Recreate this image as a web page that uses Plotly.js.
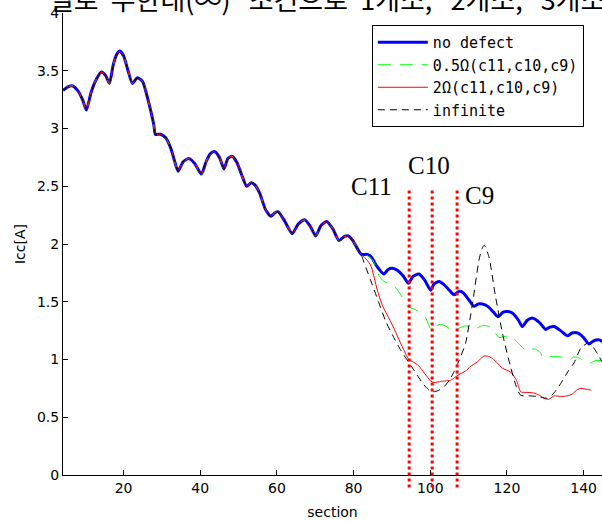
<!DOCTYPE html>
<html>
<head>
<meta charset="utf-8">
<script src="https://cdn.plot.ly/plotly-3.0.1.min.js"></script>
<style>html,body{margin:0;padding:0;background:#fff;}#chart{width:602px;height:521px;}</style>
</head>
<body>
<div id="chart"></div>
<script>
// Shared part of all four curves (sections 4..82)
const sectionsCommon = [4.2,5.5,6.6,8,9.3,10.3,11.5,12.8,14.2,15.3,16.3,17.3,18.2,19.0,20,21,22.3,23.6,24.9,26.6,27.9,28.3,29.6,31,32.3,33.3,34.2,35.5,36.9,38.5,40.3,41.5,42.6,43.7,45,46.2,47.2,48.3,49.5,50.8,52.1,53.3,54.3,55.5,57.0,58.4,59.5,60.3,62,64,65.5,67.2,68.6,70.1,71.5,73,74.6,76.2,77.6,78.6,79.8,81,82];
const iccCommon = [3.33,3.36,3.37,3.33,3.25,3.16,3.31,3.42,3.49,3.46,3.39,3.55,3.64,3.67,3.63,3.52,3.39,3.44,3.41,3.22,3.03,2.95,2.95,2.92,2.83,2.72,2.63,2.71,2.74,2.70,2.605,2.71,2.78,2.80,2.75,2.65,2.74,2.76,2.71,2.60,2.50,2.53,2.51,2.44,2.30,2.24,2.27,2.28,2.20,2.09,2.17,2.21,2.16,2.07,2.16,2.195,2.13,2.03,2.065,2.07,2.03,1.96,1.91];

// No defect (after section 82)
const sectionsNoDefect = [83.6,84.6,86,87.9,89,90.1,91.5,93,94.3,95.5,97,98.5,100.1,101,102.3,103.5,105,106.2,107.5,108.5,110,111.4,112.5,113.6,115,116.5,117.7,119,120.3,121.5,123,124.0,125.3,126.6,128.5,130.1,131.2,132.3,134,135.8,137,138.4,140,141.4,142.5,144,145];
const iccNoDefect = [1.91,1.89,1.81,1.74,1.78,1.79,1.77,1.72,1.66,1.72,1.74,1.69,1.60,1.655,1.675,1.65,1.60,1.56,1.59,1.58,1.52,1.46,1.48,1.48,1.46,1.41,1.37,1.41,1.415,1.40,1.34,1.285,1.34,1.36,1.32,1.26,1.28,1.285,1.25,1.205,1.23,1.23,1.19,1.135,1.16,1.17,1.155];

// 0.5 ohm defect at c11, c10, c9
const sectionsHalfOhm = [83.5,85,86.6,87.9,89.5,91,92.5,94,95.5,97,98.8,100.3,101.5,102.7,104,105.3,106.5,107.5,108.8,110.5,112,113.6,115,116.2,117.9,119.5,121.4,123,124.9,126,127.5,128.7,129.6,130.5,131.4,133,134.5,136.2,137.3,138.4,139.5,140.5,141.8,143,145];
const iccHalfOhm = [1.90,1.86,1.73,1.675,1.66,1.62,1.55,1.46,1.44,1.415,1.36,1.256,1.29,1.305,1.29,1.26,1.25,1.27,1.29,1.285,1.27,1.295,1.29,1.27,1.19,1.20,1.19,1.14,1.08,1.09,1.09,1.06,1.01,1.02,1.025,1.025,1.02,0.99,1.02,1.02,1.00,0.98,0.97,0.99,0.99];

// 2 ohm defect at c11, c10, c9
const sectionsTwoOhm = [82.7,84.4,86.2,87.5,90.1,92.7,94.4,95.5,97,98.5,100.1,101,102.7,104,105.3,106.6,107.5,109.2,110.5,112.3,114,114.9,116.2,117.5,118.8,121,122.5,123.6,125,127,128.5,129.6,130.9,132.3,134,135.7,137,138.4,139.3,141,142];
const iccTwoOhm = [1.89,1.82,1.60,1.47,1.30,1.11,1.00,0.98,0.945,0.88,0.815,0.80,0.81,0.815,0.82,0.85,0.87,0.90,0.94,0.98,1.03,1.03,1.01,0.97,0.925,0.89,0.82,0.72,0.715,0.71,0.69,0.665,0.655,0.685,0.68,0.685,0.70,0.74,0.75,0.74,0.735];

// Infinite (open) defect
const sectionsInfinite = [82.3,84.4,86.5,88.4,90.5,92.3,94.9,96.5,98,99.5,100.5,102,103.6,105,106.2,107.5,109.2,111,112.7,113.5,114.1,115.3,117,119,121,122.5,123.6,126,128,130.5,132,134,136,137.5,139.3,141,142,143.6,145];
const iccInfinite = [1.88,1.69,1.50,1.33,1.19,1.08,0.95,0.87,0.795,0.74,0.72,0.73,0.765,0.82,0.895,0.99,1.14,1.48,1.86,1.96,1.99,1.89,1.55,1.20,0.93,0.76,0.69,0.685,0.68,0.665,0.70,0.79,0.90,0.97,1.10,1.14,1.13,1.05,0.97];

// Defect locations (sections) and labels
const defectSections = [94.5, 100.5, 107];
const defectLabels = ['C11', 'C10', 'C9'];
const defectLabelPos = [[84.6, 2.50], [99.8, 2.68], [112.8, 2.42]];

const seriesNames = ['no defect', '0.5Ω(c11,c10,c9)', '2Ω(c11,c10,c9)', 'infinite'];
const S = '\u00A0';
const titleText = '렬로' + S + S + '무한대(∞)' + S + S + S + '조건으로' + S + S + '1개소,' + S + S + S + '2개소,' + S + S + S + '3개소';

const mk = (xs, ys, name, line) => ({
  x: sectionsCommon.concat(xs), y: iccCommon.concat(ys), name: name,
  type: 'scatter', mode: 'lines', line: Object.assign({shape: 'spline', smoothing: 0.6}, line)
});

const traces = [
  mk(sectionsNoDefect, iccNoDefect, seriesNames[0], {color: '#0000ff', width: 3}),
  mk(sectionsHalfOhm, iccHalfOhm, seriesNames[1], {color: '#00ff00', width: 1, dash: '13px,9px'}),
  mk(sectionsTwoOhm, iccTwoOhm, seriesNames[2], {color: '#ff0000', width: 1}),
  mk(sectionsInfinite, iccInfinite, seriesNames[3], {color: '#000000', width: 1, dash: '7px,5px'})
];

const yMax = 4;
const shapes = defectSections.map(s => ({
  type: 'line', xref: 'x', yref: 'paper', x0: s, x1: s, y0: -0.027, y1: 2.47 / yMax,
  line: {color: '#ff0000', width: 3, dash: 'dot'}, layer: 'above'
}));

const annotations = defectLabels.map((t, i) => ({
  text: t, x: defectLabelPos[i][0], y: defectLabelPos[i][1], xref: 'x', yref: 'y',
  showarrow: false, font: {family: 'Liberation Serif', size: 25, color: '#000'}
}));
annotations.push({
  text: titleText, xref: 'paper', yref: 'paper', x: -0.03, y: 0.985, xanchor: 'left', yanchor: 'bottom',
  showarrow: false, font: {family: 'Noto Sans CJK KR', size: 27, color: '#000'}
});

const axisFont = {family: 'DejaVu Sans', size: 14, color: '#000'};
const layout = {
  width: 602, height: 521,
  margin: {l: 63, r: 0, t: 13, b: 46},
  paper_bgcolor: '#fff', plot_bgcolor: '#fff',
  showlegend: true,
  legend: {x: 0.573, y: 0.974, xanchor: 'left', yanchor: 'top', bgcolor: '#fff',
           bordercolor: '#000', borderwidth: 1, itemwidth: 50,
           font: {family: 'DejaVu Sans Mono', size: 15, color: '#000'}},
  xaxis: {range: [4.2, 144.8], tick0: 0, dtick: 20, ticks: 'inside', ticklen: 5, tickcolor: '#000',
          showline: true, linecolor: '#000', linewidth: 1, showgrid: false, zeroline: false,
          tickfont: axisFont, title: {text: 'section', font: axisFont, standoff: 12}},
  yaxis: {range: [0, 4], tick0: 0, dtick: 0.5, ticks: 'inside', ticklen: 5, tickcolor: '#000',
          showline: true, linecolor: '#000', linewidth: 1, showgrid: false, zeroline: false,
          tickfont: axisFont, title: {text: 'Icc[A]', font: axisFont, standoff: 8}},
  shapes: shapes,
  annotations: annotations
};

Plotly.newPlot('chart', traces, layout, {displayModeBar: false, staticPlot: true});
</script>
</body>
</html>
